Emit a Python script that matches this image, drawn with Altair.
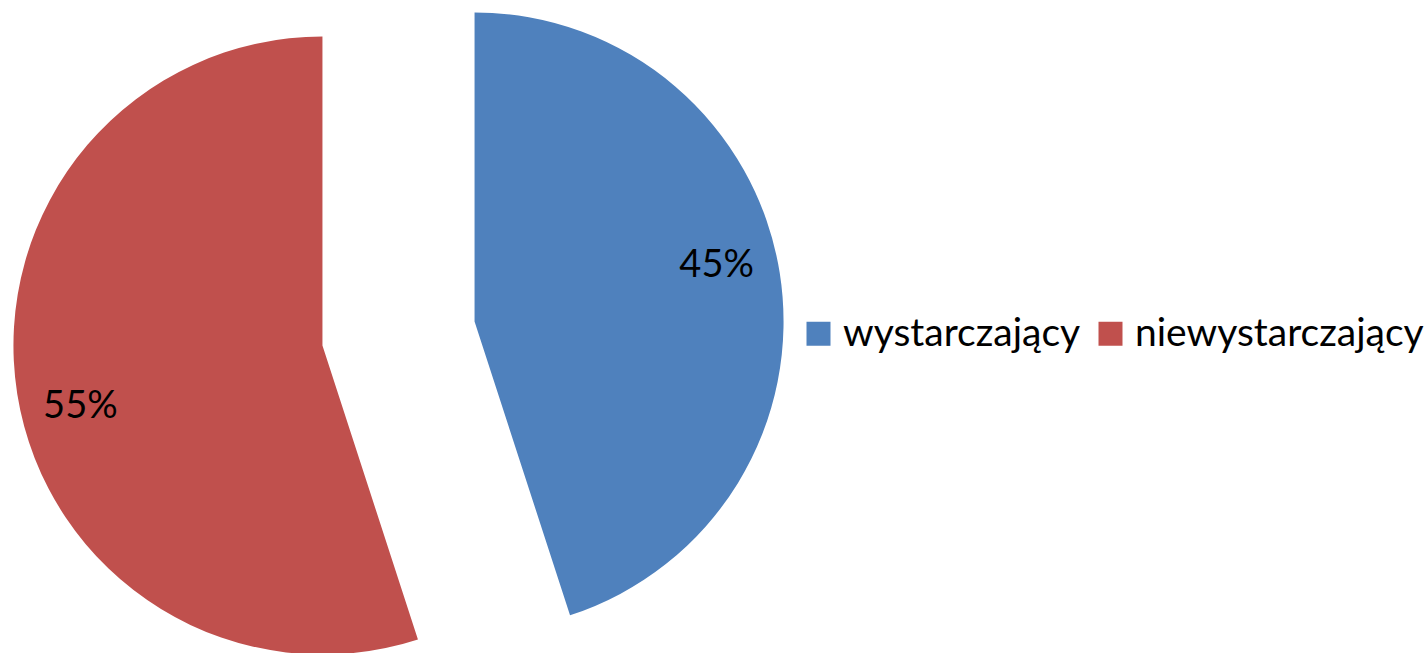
import math
import altair as alt
import pandas as pd

categories = ["wystarczający", "niewystarczający"]
values = [45, 55]
labels = ["45%", "55%"]
colors = ["#4F81BD", "#C0504D"]

FONT = "Lato"
CX, CY = 398.5, 333.5      # pie centre (pixels)
RADIUS = 309               # pie radius
EXPLODE = 77               # distance each slice is pulled out
LABEL_R = 0.806 * RADIUS
LABEL_SHIFT = -4.6         # degrees

total = sum(values)
color_scale = alt.Scale(domain=categories, range=colors)
theta_scale = alt.Scale(domain=[0, total], range=[0, 2 * math.pi])

layers = []
start = 0
for i, (cat, val, lab) in enumerate(zip(categories, values, labels)):
    end = start + val
    mid = (start + end) / 2 / total * 360
    ang = math.radians(mid)
    sx = CX + EXPLODE * math.sin(ang)
    sy = CY - EXPLODE * math.cos(ang)
    la = math.radians(mid + LABEL_SHIFT)
    lx = sx + LABEL_R * math.sin(la)
    ly = sy - LABEL_R * math.cos(la)
    df = pd.DataFrame({"cat": [cat], "start": [start], "end": [end], "label": [lab]})
    arc = alt.Chart(df).mark_arc(x=sx, y=sy, outerRadius=RADIUS, innerRadius=0, stroke=None).encode(
        theta=alt.Theta("start:Q", scale=theta_scale),
        theta2="end:Q",
        color=alt.Color(
            "cat:N",
            scale=color_scale,
            title=None,
            legend=alt.Legend(
                orient="none",
                legendX=799,
                legendY=314,
                direction="horizontal",
                symbolType="square",
                symbolSize=576,
                symbolStrokeWidth=0,
                labelFont=FONT,
                labelFontSize=39,
                labelColor="#000000",
                labelOffset=5,
                columnPadding=10,
                labelLimit=400,
                padding=0,
            ),
        ),
    )
    txt = alt.Chart(df).mark_text(
        font=FONT, fontSize=38, color="#000000", align="center", baseline="middle"
    ).encode(text="label:N", x=alt.value(lx), y=alt.value(ly + 3))
    layers += [arc, txt]
    start = end

chart = alt.layer(*layers).properties(
    width=1424, height=653, autosize=alt.AutoSizeParams(type="none"), padding=0
).configure_view(stroke=None)

chart.save("out.html", embed_options={"renderer": "svg", "actions": False})
